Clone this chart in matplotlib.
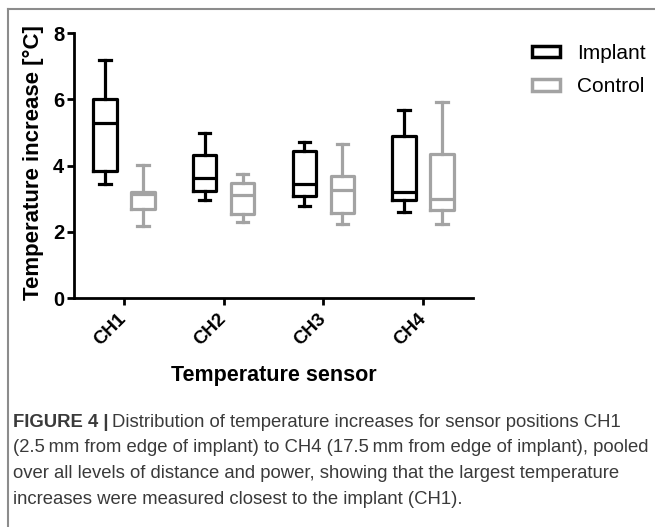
import matplotlib

matplotlib.use("Agg")
import matplotlib.pyplot as plt  # noqa: E402
from matplotlib.lines import Line2D  # noqa: E402
from matplotlib.patches import Patch  # noqa: E402

plt.rcParams["font.family"] = ["Liberation Sans", "DejaVu Sans"]

SENSORS = ["CH1", "CH2", "CH3", "CH4"]

# box statistics (deg C)
IMPLANT_LO = [3.45, 2.97, 2.79, 2.59]
IMPLANT_Q1 = [3.85, 3.22, 3.07, 2.95]
IMPLANT_MED = [5.30, 3.62, 3.44, 3.20]
IMPLANT_Q3 = [6.02, 4.31, 4.43, 4.90]
IMPLANT_HI = [7.20, 5.00, 4.70, 5.69]

CONTROL_LO = [2.18, 2.30, 2.24, 2.24]
CONTROL_Q1 = [2.70, 2.54, 2.57, 2.67]
CONTROL_MED = [3.13, 3.12, 3.27, 2.99]
CONTROL_Q3 = [3.19, 3.47, 3.70, 4.35]
CONTROL_HI = [4.03, 3.76, 4.66, 5.91]

GROUPS = ["Implant", "Control"]
COLORS = ["black", "#a3a3a3"]

CAPTION = [
    "Distribution of temperature increases for sensor positions CH1",
    "(2.5\u2009mm from edge of implant) to CH4 (17.5\u2009mm from edge of implant), pooled",
    "over all levels of distance and power, showing that the largest temperature",
    "increases were measured closest to the implant (CH1).",
]


def box_stats(lo, q1, med, q3, hi):
    return [
        {"whislo": a, "q1": b, "med": c, "q3": d, "whishi": e, "fliers": []}
        for a, b, c, d, e in zip(lo, q1, med, q3, hi)
    ]


def main():
    fig = plt.figure(figsize=(6.55, 5.27), dpi=100)
    ax = fig.add_axes([74 / 655, 229 / 527, 399 / 655, 264.7 / 527])

    data = [
        box_stats(IMPLANT_LO, IMPLANT_Q1, IMPLANT_MED, IMPLANT_Q3, IMPLANT_HI),
        box_stats(CONTROL_LO, CONTROL_Q1, CONTROL_MED, CONTROL_Q3, CONTROL_HI),
    ]
    offsets = (-0.19, 0.19)
    for stats, off, col in zip(data, offsets, COLORS):
        lw = 2.3
        ax.bxp(
            stats,
            positions=[i + off for i in range(len(SENSORS))],
            widths=0.235,
            capwidths=0.115,
            showfliers=False,
            manage_ticks=False,
            boxprops=dict(color=col, linewidth=lw),
            whiskerprops=dict(color=col, linewidth=lw),
            capprops=dict(color=col, linewidth=lw),
            medianprops=dict(color=col, linewidth=lw),
        )

    ax.set_xlim(-0.5, 3.5)
    ax.set_ylim(0, 8)
    ax.set_yticks([0, 2, 4, 6, 8])
    ax.set_xticks(range(len(SENSORS)))
    ax.set_xticklabels(SENSORS, rotation=45, ha="right", va="center",
                       rotation_mode="anchor", fontsize=13.5, fontweight="bold")
    for lab in ax.get_yticklabels():
        lab.set_fontsize(14.5)
        lab.set_fontweight("bold")
    for side in ("top", "right"):
        ax.spines[side].set_visible(False)
    for side in ("left", "bottom"):
        ax.spines[side].set_linewidth(2.0)
    ax.tick_params(axis="y", length=5, width=2.0, pad=2)
    ax.tick_params(axis="x", length=5, width=2.0, pad=8)

    ax.set_xlabel("Temperature sensor", fontsize=15.5, fontweight="bold")
    ax.set_ylabel("Temperature increase [\u00b0C]", fontsize=16, fontweight="bold")
    ax.xaxis.set_label_coords(0.5, -0.255)
    ax.yaxis.set_label_coords(-0.076, 0.51)

    handles = [Patch(facecolor="white", edgecolor=c, linewidth=2.5) for c in COLORS]
    fig.legend(handles, GROUPS, loc="upper left", bbox_to_anchor=(532 / 655, 1 - 44 / 527),
               frameon=False, fontsize=15, borderpad=0, borderaxespad=0,
               handlelength=1.35, handleheight=0.48, handletextpad=0.8, labelspacing=0.68)

    # panel frame (left and top rules)
    grey = "#8c8c8c"
    fig.add_artist(Line2D([7.5 / 655, 7.5 / 655], [0, 1 - 9 / 527], color=grey,
                          linewidth=1.5, transform=fig.transFigure))
    fig.add_artist(Line2D([7.5 / 655, 1], [1 - 9 / 527, 1 - 9 / 527], color=grey,
                          linewidth=1.5, transform=fig.transFigure))

    # caption
    cap_col = "#3a3a3a"
    fs = 13.3
    y0, dy = 1 - 427 / 527, 25.5 / 527
    t = fig.text(13 / 655, y0, "FIGURE 4 |", fontsize=fs, fontweight="bold",
                 color=cap_col, va="baseline")
    fig.canvas.draw()
    bb = t.get_window_extent()
    fig.text(bb.x1 / 655 + 4 / 655, y0, CAPTION[0], fontsize=fs, color=cap_col, va="baseline")
    for k, line in enumerate(CAPTION[1:], start=1):
        fig.text(13 / 655, y0 - k * dy, line, fontsize=fs, color=cap_col, va="baseline")

    fig.savefig("out.png", dpi=100)


if __name__ == "__main__":
    main()
